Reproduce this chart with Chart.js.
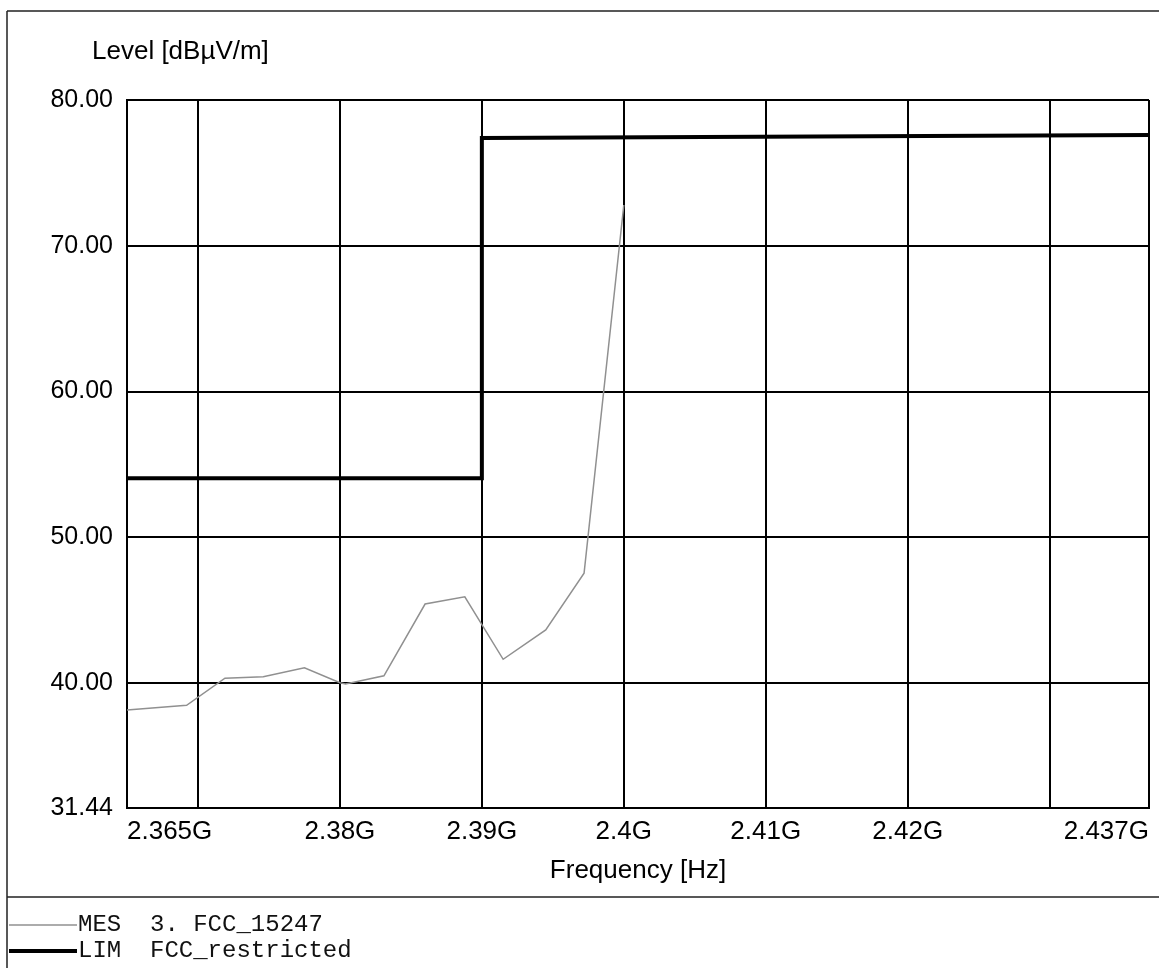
<!DOCTYPE html>
<html><head><meta charset="utf-8">
<script src="https://cdn.jsdelivr.net/npm/chart.js@4.4.1/dist/chart.umd.min.js"></script>
<style>html,body{margin:0;padding:0;background:#fff;overflow:hidden}</style>
</head><body>
<canvas id="c" width="1159" height="968"></canvas>
<script>
// ---- data ----
const yAxisTitle = 'Level [dBµV/m]';
const xAxisTitle = 'Frequency [Hz]';
const xTickValues = [2.365, 2.37, 2.38, 2.39, 2.40, 2.41, 2.42, 2.43, 2.437];
const xTickLabels = ['2.365G', '', '2.38G', '2.39G', '2.4G', '2.41G', '2.42G', '', '2.437G'];
const yTickValues = [31.44, 40, 50, 60, 70, 80];
const yTickLabels = ['31.44', '40.00', '50.00', '60.00', '70.00', '80.00'];
const mesFreq  = [2.3650, 2.3692, 2.3719, 2.3746, 2.3775, 2.3800, 2.3804, 2.3831, 2.3860, 2.3888, 2.3915, 2.3945, 2.3972, 2.4000];
const mesLevel = [38.16, 38.48, 40.34, 40.45, 41.06, 40.03, 39.95, 40.51, 45.43, 45.93, 41.64, 43.65, 47.54, 72.80];
const limFreq  = [2.365, 2.390, 2.390, 2.437];
const limLevel = [54.05, 54.05, 77.40, 77.60];
const legendNames = ['MES  3. FCC_15247', 'LIM  FCC_restricted'];
const seriesColors = ['#909090', '#000000'];
const seriesWidths = [1.5, 4];

const toPts = (xs, ys) => xs.map((x, i) => ({x: x, y: ys[i]}));

const decor = {
  id: 'decor',
  beforeDraw(chart) {
    const ctx = chart.ctx;
    ctx.save();
    ctx.fillStyle = '#fff';
    ctx.fillRect(0, 0, chart.width, chart.height);
    ctx.strokeStyle = '#222';
    ctx.lineWidth = 1.5;
    ctx.beginPath();
    ctx.moveTo(7, 11); ctx.lineTo(chart.width, 11);
    ctx.moveTo(7, 11); ctx.lineTo(7, chart.height);
    ctx.moveTo(7, 897); ctx.lineTo(chart.width, 897);
    ctx.stroke();
    ctx.restore();
  },
  afterDraw(chart) {
    const ctx = chart.ctx;
    const ca = chart.chartArea;
    ctx.save();
    ctx.fillStyle = '#000';
    ctx.font = '26px "Liberation Sans", Arial, sans-serif';
    ctx.textAlign = 'left';
    ctx.textBaseline = 'middle';
    ctx.fillText(yAxisTitle, ca.left - 35, ca.top - 48);
    // legend
    const rows = [925, 951];
    ctx.font = '24px "Liberation Mono", monospace';
    legendNames.forEach((name, i) => {
      ctx.strokeStyle = seriesColors[i];
      ctx.lineWidth = seriesWidths[i];
      ctx.beginPath();
      ctx.moveTo(9, rows[i]); ctx.lineTo(77, rows[i]);
      ctx.stroke();
      ctx.fillStyle = '#111';
      ctx.fillText(name, 78, rows[i]);
    });
    ctx.restore();
  }
};

new Chart(document.getElementById('c'), {
  type: 'line',
  data: {
    datasets: [
      { label: legendNames[0], data: toPts(mesFreq, mesLevel), borderColor: seriesColors[0], borderWidth: seriesWidths[0], pointRadius: 0, tension: 0, fill: false },
      { label: legendNames[1], data: toPts(limFreq, limLevel), borderColor: seriesColors[1], borderWidth: seriesWidths[1], pointRadius: 0, tension: 0, fill: false }
    ]
  },
  options: {
    responsive: false,
    animation: false,
    layout: { padding: { left: 8, top: 100, right: 10, bottom: 71 } },
    plugins: { legend: { display: false }, tooltip: { enabled: false }, title: { display: false } },
    scales: {
      x: {
        type: 'linear',
        min: 2.365, max: 2.437,
        afterBuildTicks: s => { s.ticks = xTickValues.map(v => ({value: v})); },
        afterFit: s => { s.height = 89; },
        grid: { color: '#000', lineWidth: 2, drawTicks: false },
        border: { color: '#000', width: 2 },
        ticks: {
          autoSkip: false, maxRotation: 0, minRotation: 0, align: 'inner', padding: 8,
          color: '#000', font: { family: '"Liberation Sans", Arial, sans-serif', size: 26 },
          callback: (v, i) => xTickLabels[i]
        },
        title: { display: true, text: xAxisTitle, color: '#000', padding: { top: 0, bottom: 11 },
          font: { family: '"Liberation Sans", Arial, sans-serif', size: 26 } }
      },
      y: {
        type: 'linear',
        min: 31.44, max: 80,
        afterBuildTicks: s => { s.ticks = yTickValues.map(v => ({value: v})); },
        afterFit: s => { s.width = 119; },
        grid: { color: '#000', lineWidth: 2, drawTicks: false },
        border: { color: '#000', width: 2 },
        ticks: {
          padding: 14, color: '#000',
          font: { family: '"Liberation Sans", Arial, sans-serif', size: 25 },
          callback: (v, i) => yTickLabels[i]
        }
      }
    }
  },
  plugins: [decor]
});
</script>
</body></html>
